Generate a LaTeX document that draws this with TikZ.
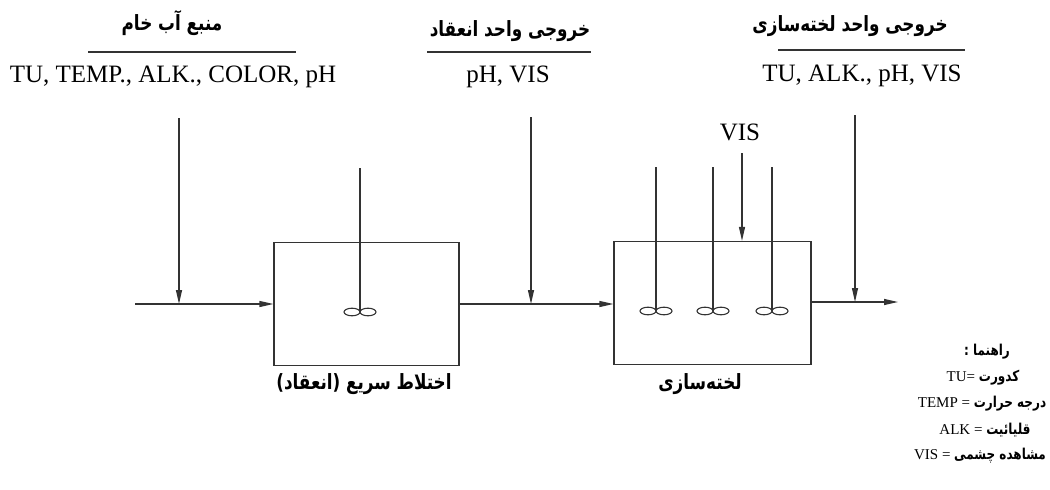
\documentclass[tikz,border=0pt]{standalone}
\usepackage{fontspec}
\setmainfont{Liberation Serif}
\newfontfamily\fa[Script=Arabic,FakeStretch=0.8]{DejaVu Sans}
\TeXXeTstate=1
\usetikzlibrary{arrows.meta}
\newcommand{\fatext}[1]{{\fa\bfseries\beginR #1\endR}}
\tikzset{
  flow/.style={line width=1.2pt, draw=black!80},
  flowarrow/.style={flow, -{Triangle[length=14pt,width=6pt]}},
  tank/.style={draw=black!80, line width=1.2pt, inner sep=0pt, minimum width=#1, minimum height=123pt},
  heading/.style={font=\fontsize{21}{22}\selectfont, inner sep=0pt},
  param/.style={font=\fontsize{25}{27}\selectfont, inner sep=0pt},
  caption/.style={font=\fontsize{21}{22}\selectfont, inner sep=0pt},
  legend/.style={font=\fontsize{15}{16}\selectfont, inner sep=0pt},
  rule/.style={line width=1.2pt, draw=black!80},
}
\newcommand{\impeller}[1]{%
  \draw[line width=1.1pt, draw=black!80] ([xshift=-8pt]#1) ellipse [x radius=8pt, y radius=3.8pt];
  \draw[line width=1.1pt, draw=black!80] ([xshift=8pt]#1) ellipse [x radius=8pt, y radius=3.8pt];}
\begin{document}
\begin{tikzpicture}[x=1pt, y=-1pt]
\useasboundingbox (0,0) rectangle (1050,490);

% headings over the three sampling points
\node[heading] (h1) at (172,23) {\fatext{منبع آب خام}};
\node[heading] (h2) at (510,31) {\fatext{خروجی واحد انعقاد}};
\node[heading] (h3) at (850,26) {\fatext{خروجی واحد لخته‌سازی}};
\coordinate (r1a) at (88,52);  \coordinate (r1b) at (296,52);
\coordinate (r2a) at (427,52); \coordinate (r2b) at (591,52);
\coordinate (r3a) at (778,50); \coordinate (r3b) at (965,50);
\draw[rule] (r1a) -- (r1b);
\draw[rule] (r2a) -- (r2b);
\draw[rule] (r3a) -- (r3b);

% measured parameters
\node[param] (p1) at (173,77) {TU, TEMP., ALK., COLOR, pH};
\node[param] (p2) at (508,77) {pH, VIS};
\node[param] (p3) at (862,76) {TU, ALK., pH, VIS};

% tanks
\node[tank=185pt] (mix) at (366.5,304) {};
\node[tank=197pt] (floc) at (712.5,303) {};

% main flow line
\coordinate (in) at (135,304);
\coordinate (out) at (898,302);
\draw[flowarrow] (in) -- (in -| mix.west);
\draw[flowarrow] (mix.east |- in) -- (in -| floc.west);
\draw[flowarrow] (floc.east |- out) -- (out);

% sampling arrows
\coordinate (s1) at (179,118);
\coordinate (s2) at (531,117);
\coordinate (s3) at (855,115);
\draw[flowarrow] (s1) -- (s1 |- in);
\draw[flowarrow] (s2) -- (s2 |- in);
\draw[flowarrow] (s3) -- (s3 |- out);

% visual check on the flocculator
\node[param] (vis) at (740,132) {VIS};
\coordinate (v) at (742,153);
\draw[flowarrow] (v) -- (v |- floc.north);

% mixers: shafts and paddles
\coordinate (m1top) at (360,168); \coordinate (m1) at (360,312);
\coordinate (m2top) at (656,167); \coordinate (m2) at (656,311);
\coordinate (m3top) at (713,167); \coordinate (m3) at (713,311);
\coordinate (m4top) at (772,167); \coordinate (m4) at (772,311);
\draw[flow] (m1top) -- (m1);
\draw[flow] (m2top) -- (m2);
\draw[flow] (m3top) -- (m3);
\draw[flow] (m4top) -- (m4);
\impeller{m1}\impeller{m2}\impeller{m3}\impeller{m4}

% tank captions
\node[caption] (c1) at (364,384) {\fatext{اختلاط سریع (انعقاد)}};
\node[caption] (c2) at (700,384) {\fatext{لخته‌سازی}};

% legend
\node[legend] (lg0) at (987,352) {\fatext{راهنما :}};
\node[legend] (lg1) at (983,378) {TU= \fatext{کدورت}};
\node[legend] (lg2) at (982,404) {TEMP = \fatext{درجه حرارت}};
\node[legend] (lg3) at (985,430) {ALK = \fatext{قلیائیت}};
\node[legend] (lg4) at (980,456) {VIS = \fatext{مشاهده چشمی}};
\end{tikzpicture}
\end{document}
